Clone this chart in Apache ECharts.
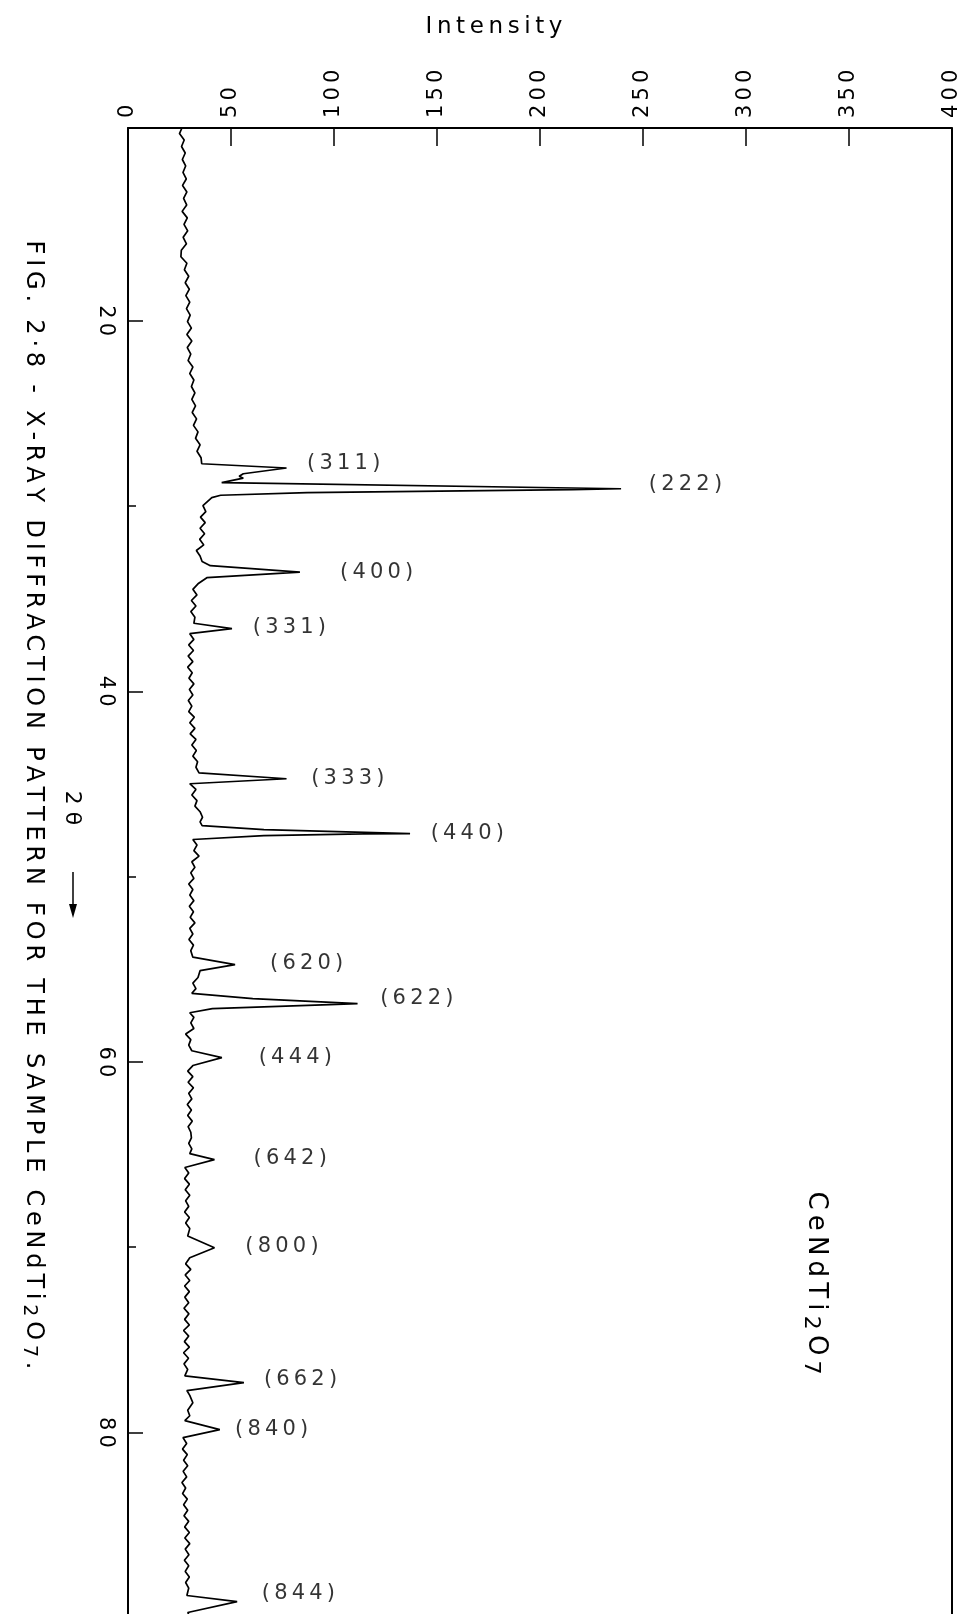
<!DOCTYPE html>
<html>
<head>
<meta charset="utf-8">
<title>CeNdTi2O7 XRD</title>
<script src="https://cdn.jsdelivr.net/npm/echarts/dist/echarts.min.js"></script>
<style>
    html, body { margin: 0; padding: 0; background: #fff; }
    #xrd { width: 962px; height: 1614px; }
</style>
</head>
<body>
<div id="xrd"></div>
<script>
// 2-theta (degrees) and intensity, top to bottom
var twoTheta = [
    9.6, 9.9, 10.25, 10.6, 10.95, 11.3, 11.65, 12.0, 12.35, 12.7, 13.05, 13.4, 13.75, 14.1, 14.45, 14.8,
    15.15, 15.5, 15.85, 16.2, 16.55, 16.9, 17.25, 17.6, 17.95, 18.3, 18.65, 19.0, 19.35, 19.7, 20.05, 20.4,
    20.75, 21.1, 21.45, 21.8, 22.15, 22.5, 22.85, 23.2, 23.55, 23.9, 24.25, 24.6, 24.95, 25.3, 25.65, 26.0,
    26.35, 26.7, 27.05, 27.4, 27.72,
    27.95, 28.26, 28.4, 28.5, 28.74, 29.07, 29.12, 29.28, 29.42, 29.55, 29.98,
    30.3, 30.6, 30.9, 31.2, 31.5, 31.8, 32.1, 32.4, 32.7, 33.0, 33.22,
    33.57, 33.87, 34.2,
    34.5, 34.8, 35.1, 35.4, 35.7, 36.0, 36.33,
    36.62, 36.89,
    37.2, 37.5, 37.8, 38.1, 38.4, 38.7, 39.0, 39.3, 39.6, 39.9, 40.2, 40.5, 40.8, 41.1, 41.4, 41.7,
    42.0, 42.3, 42.6, 42.9, 43.2, 43.5, 43.8, 44.1, 44.4,
    44.72, 44.99,
    45.3, 45.6, 45.9, 46.2, 46.5, 46.8, 47.05, 47.25,
    47.47, 47.68, 47.7, 47.79, 48.0,
    48.3, 48.6, 48.9, 49.2, 49.5, 49.8, 50.1, 50.4, 50.7, 51.0, 51.3, 51.6, 51.9, 52.2, 52.5, 52.8,
    53.1, 53.4, 53.7, 54.0, 54.35,
    54.75, 55.08, 55.45, 55.75, 56.05, 56.3,
    56.59, 56.86, 56.91, 57.13, 57.35,
    57.6, 57.9, 58.2, 58.5, 58.8, 59.1, 59.4,
    59.77, 60.2,
    60.5, 60.8, 61.1, 61.4, 61.7, 62.0, 62.3, 62.6, 62.9, 63.2, 63.5, 63.8, 64.1, 64.4, 64.7, 64.95,
    65.28, 65.7,
    66.0, 66.3, 66.6, 66.9, 67.2, 67.5, 67.8, 68.1, 68.4, 68.7, 69.0, 69.4,
    70.03, 70.57,
    70.9, 71.2, 71.5, 71.8, 72.1, 72.4, 72.7, 73.0, 73.3, 73.6, 73.9, 74.2, 74.5, 74.8, 75.1, 75.4,
    75.7, 76.0, 76.3, 76.6, 76.95,
    77.31, 77.74, 78.0, 78.4, 78.8, 79.1, 79.36,
    79.85, 80.28,
    80.6, 80.9, 81.2, 81.5, 81.8, 82.1, 82.4, 82.7, 83.0, 83.3, 83.6, 83.9, 84.2, 84.5, 84.8, 85.1,
    85.4, 85.7, 86.0, 86.3, 86.6, 86.9, 87.2, 87.5, 87.8, 88.1, 88.4, 88.8,
    89.13, 89.72, 89.8
];
var intensity = [
    26.2, 25.0, 27.3, 26.0, 27.8, 26.4, 28.0, 26.7, 28.3, 26.5, 28.6, 27.0, 28.5, 26.3, 28.8, 27.2,
    29.0, 26.8, 28.4, 25.9, 25.7, 28.6, 27.4, 29.5, 27.8, 29.8, 28.1, 30.0, 28.4, 30.2, 28.9, 30.8,
    28.6, 31.0, 28.8, 30.5, 29.2, 31.5, 30.0, 32.0, 30.8, 32.5, 31.0, 32.8, 31.2, 33.3, 31.8, 34.0,
    32.8, 35.0, 33.5, 35.5, 35.8,
    77, 56, 54, 56, 45.5, 239.5, 216, 87, 45, 40.7, 36.4,
    37.8, 35.2, 37.5, 35.0, 37.2, 34.8, 36.8, 33.2, 35.0, 36.0, 40.0,
    83.5, 38.3, 34.0,
    31.5, 33.5, 30.8, 33.0, 30.5, 32.5, 32.0,
    50.5, 30.0,
    32.0, 29.5, 31.8, 29.2, 31.5, 29.0, 31.2, 29.6, 32.0, 29.8, 31.5, 29.3, 31.0, 29.5, 32.2, 30.0,
    32.5, 30.2, 33.0, 31.0, 33.2, 31.5, 33.8, 33.0, 34.5,
    77, 30.0,
    33.0, 31.0, 33.5, 32.5, 35.0, 36.2, 35.0, 36.0,
    66, 137, 114, 66, 31.5,
    33.5, 32.0, 34.5, 31.0, 32.5, 30.5, 32.0, 29.5, 31.5, 30.0, 32.0, 29.8, 31.8, 30.2, 32.5, 30.0,
    31.5, 29.6, 31.8, 30.5, 31.5,
    52, 35.0, 34.0, 31.5, 33.0, 31.0,
    60.6, 111.5, 98, 41, 30.0,
    32.0, 30.5, 32.0, 28.0, 30.5, 29.5, 31.0,
    45.6, 31.5,
    29.0, 31.5, 29.2, 31.8, 29.5, 31.0, 28.8, 30.8, 29.0, 31.2, 29.2, 30.5, 30.8, 29.5, 31.0, 30.0,
    42, 27.6,
    29.5, 27.5, 29.8, 27.8, 30.0, 28.0, 29.5, 27.5, 29.8, 28.0, 30.0, 29.0,
    42, 30.0,
    28.0, 30.5, 27.8, 30.0, 27.5, 29.8, 27.6, 29.5, 27.2, 29.6, 27.5, 29.8, 27.0, 29.5, 27.4, 29.8,
    27.0, 29.4, 27.2, 29.0, 27.6,
    56.3, 28.6, 30.0, 31.5, 29.0, 30.0, 27.6,
    44.6, 26.7,
    28.5, 26.5, 28.8, 27.0, 29.0, 26.8, 28.5, 26.2, 28.0, 26.5, 28.8, 27.0, 29.0, 27.2, 29.5, 27.5,
    29.8, 27.6, 30.0, 27.8, 29.6, 27.4, 29.5, 27.8, 29.8, 28.0, 29.5, 28.6,
    53, 29.0, 29.5
];

// reflection labels: text, intensity at the label's left edge, 2-theta at its middle
var peakNames = ['311', '222', '400', '331', '333', '440', '620', '622', '444', '642', '800', '662', '840', '844'];
var peakLabelI = [87, 253, 103, 60.6, 89, 147, 69, 122.5, 63.5, 61, 57, 66, 52, 65];
var peakLabelT = [27.7, 28.85, 33.6, 36.55, 44.7, 47.7, 54.7, 56.6, 59.75, 65.2, 69.95, 77.15, 79.85, 88.7];

var labelledTicks = [20, 40, 60, 80];
var minorTicks = [30, 50, 70];

(function () {
    var ink = '#000';
    var font = 'DejaVu Sans';

    function spaced(s, sep) {
        return s.split('').join(sep);
    }

    var trace = [];
    for (var i = 0; i < twoTheta.length; i++) {
        trace.push([intensity[i], twoTheta[i]]);
    }

    var peaks = [];
    for (var p = 0; p < peakNames.length; p++) {
        peaks.push({
            name: '(\u2009' + spaced(peakNames[p], '\u2009') + '\u2009)',
            value: [peakLabelI[p], peakLabelT[p]]
        });
    }

    // formula with lowered digits, written as rich text
    var sp = '\u2009';
    function formula(tail) {
        return spaced('CeNdTi', sp) + sp + '{s|2}' + sp + 'O' + sp + '{s|7}' + (tail || '');
    }
    var caption = spaced('FIG. 2·8 - X-RAY DIFFRACTION PATTERN FOR THE SAMPLE', sp) + sp + ' ' + sp + formula(sp + '.');

    var option = {
        animation: false,
        backgroundColor: '#fff',
        grid: {left: 128, right: 9, top: 128, bottom: 0},
        xAxis: {
            type: 'value',
            position: 'top',
            min: 0,
            max: 400,
            interval: 50,
            axisLine: {lineStyle: {color: ink, width: 2}},
            axisTick: {inside: true, length: 18, lineStyle: {color: ink, width: 1.5}},
            axisLabel: {
                rotate: -90,
                margin: 10,
                color: ink,
                fontFamily: font,
                fontSize: 21,
                formatter: function (v) { return spaced(String(v), '\u2009'); }
            },
            splitLine: {show: false}
        },
        yAxis: [
            {
                type: 'value',
                inverse: true,
                min: 9.6,
                max: 89.8,
                axisLine: {show: true, lineStyle: {color: ink, width: 2}},
                axisTick: {inside: true, length: 15, customValues: labelledTicks, lineStyle: {color: ink, width: 1.5}},
                axisLabel: {
                    customValues: labelledTicks,
                    rotate: -90,
                    margin: 12,
                    color: ink,
                    fontFamily: font,
                    fontSize: 21,
                    formatter: function (v) { return spaced(String(v), '\u2009'); }
                },
                splitLine: {show: false}
            },
            {
                type: 'value',
                inverse: true,
                min: 9.6,
                max: 89.8,
                position: 'left',
                axisLine: {show: false},
                axisTick: {inside: true, length: 8, customValues: minorTicks, lineStyle: {color: ink, width: 1.5}},
                axisLabel: {show: false},
                splitLine: {show: false}
            },
            {
                type: 'value',
                inverse: true,
                min: 9.6,
                max: 89.8,
                position: 'right',
                axisLine: {show: true, lineStyle: {color: ink, width: 2}},
                axisTick: {show: false},
                axisLabel: {show: false},
                splitLine: {show: false}
            }
        ],
        series: [
            {
                name: 'CeNdTi2O7',
                type: 'line',
                data: trace,
                showSymbol: false,
                lineStyle: {color: ink, width: 1.7},
                z: 3
            },
            {
                name: 'hkl',
                type: 'scatter',
                data: peaks,
                symbolSize: 0,
                label: {
                    show: true,
                    position: 'right',
                    distance: 0,
                    color: ink,
                    fontFamily: font,
                    fontSize: 21,
                    formatter: function (prm) { return prm.name; }
                }
            }
        ],
        graphic: [
            {
                type: 'text', x: 494, y: 27,
                style: {text: spaced('Intensity', '\u2009'), fill: ink, font: '23px ' + font, align: 'center', verticalAlign: 'middle'}
            },
            {
                type: 'text', x: 33, y: 805, rotation: -Math.PI / 2,
                style: {
                    text: caption, fill: ink, font: '24px ' + font, align: 'center', verticalAlign: 'middle',
                    rich: {s: {fontSize: 19, fontFamily: font, padding: [9, 0, 0, 0]}}
                }
            },
            {
                type: 'text', x: 72, y: 808, rotation: -Math.PI / 2,
                style: {text: '2 θ', fill: ink, font: '22px ' + font, align: 'center', verticalAlign: 'middle'}
            },
            {
                type: 'line',
                shape: {x1: 73, y1: 872, x2: 73, y2: 906},
                style: {stroke: ink, lineWidth: 1.5}
            },
            {
                type: 'polygon',
                shape: {points: [[69, 904], [77, 904], [73, 918]]},
                style: {fill: ink}
            },
            {
                type: 'text', x: 816, y: 1283, rotation: -Math.PI / 2,
                style: {
                    text: formula(''), fill: ink, font: '26px ' + font, align: 'center', verticalAlign: 'middle',
                    rich: {s: {fontSize: 22, fontFamily: font, padding: [10, 0, 0, 0]}}
                }
            }
        ]
    };

    var chart = echarts.init(document.getElementById('xrd'));
    chart.setOption(option);
})();
</script>
</body>
</html>
